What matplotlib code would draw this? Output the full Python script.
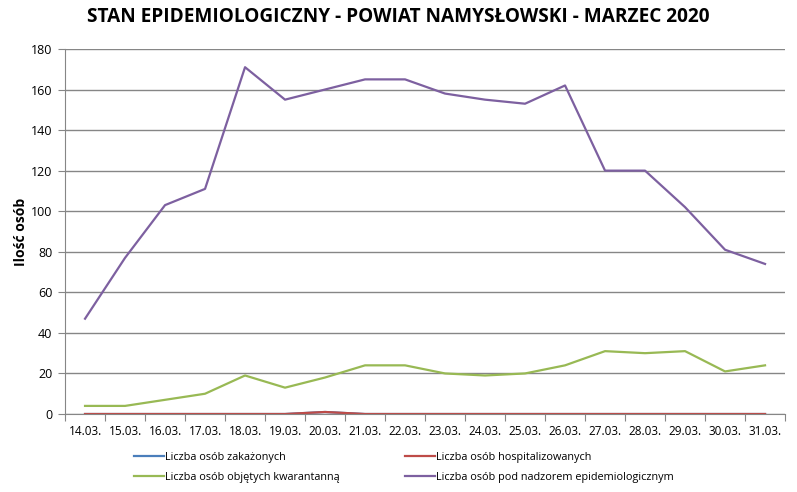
import matplotlib
matplotlib.use("Agg")
import matplotlib.pyplot as plt
import numpy as np

days = ["14.03.", "15.03.", "16.03.", "17.03.", "18.03.", "19.03.", "20.03.",
        "21.03.", "22.03.", "23.03.", "24.03.", "25.03.", "26.03.", "27.03.",
        "28.03.", "29.03.", "30.03.", "31.03."]
zakazeni = [0, 0, 0, 0, 0, 0, 1, 0, 0, 0, 0, 0, 0, 0, 0, 0, 0, 0]
hospitalizowani = [0, 0, 0, 0, 0, 0, 1, 0, 0, 0, 0, 0, 0, 0, 0, 0, 0, 0]
kwarantanna = [4, 4, 7, 10, 19, 13, 18, 24, 24, 20, 19, 20, 24, 31, 30, 31, 21, 24]
nadzor = [47, 77, 103, 111, 171, 155, 160, 165, 165, 158, 155, 153, 162, 120, 120, 102, 81, 74]

plt.rcParams['font.family'] = ['Open Sans', 'DejaVu Sans']

fig = plt.figure(figsize=(7.97, 4.92), dpi=100)
ax = fig.add_axes([0.0816, 0.1585, 0.9034, 0.742])

x = np.arange(len(days))
l1, = ax.plot(x, zakazeni, color='#4A7EBB', lw=1.6, label='Liczba osób zakażonych')
l2, = ax.plot(x, hospitalizowani, color='#BE4B48', lw=1.6, label='Liczba osób hospitalizowanych')
l3, = ax.plot(x, kwarantanna, color='#98B954', lw=1.6, label='Liczba osób objętych kwarantanną')
l4, = ax.plot(x, nadzor, color='#7D60A0', lw=1.6, label='Liczba osób pod nadzorem epidemiologicznym')

ax.set_xlim(-0.5, len(days) - 0.5)
ax.set_ylim(0, 180)
ax.set_yticks(range(0, 181, 20))
ax.grid(axis='y', color='#868686', lw=1)
ax.set_axisbelow(True)

ax.set_xticks(np.arange(-0.5, len(days), 1))
ax.set_xticklabels([])
ax.set_xticks(x, minor=True)
ax.set_xticklabels(days, minor=True)
ax.tick_params(axis='x', which='major', length=5, color='#868686')
ax.tick_params(axis='x', which='minor', length=0, pad=8, labelsize=8.5)
ax.tick_params(axis='y', length=5, color='#868686', labelsize=9, pad=4)

for s in ['top', 'right']:
    ax.spines[s].set_visible(False)
ax.spines['left'].set_color('#868686')
ax.spines['bottom'].set_color('#868686')

ax.set_ylabel('Ilość osób', fontsize=10, fontweight='bold', labelpad=2)
fig.suptitle('STAN EPIDEMIOLOGICZNY - POWIAT NAMYSŁOWSKI - MARZEC 2020',
             fontsize=13.7, fontweight='bold', y=0.985)

# row-major order like the original legend
fig.legend([l1, l3, l2, l4], [l.get_label() for l in [l1, l3, l2, l4]],
           loc='lower center', ncol=2, frameon=False, fontsize=7.8,
           bbox_to_anchor=(0.507, -0.002), columnspacing=6.0, handlelength=2.8,
           handletextpad=0.1, labelspacing=0.85)

fig.savefig('out.png', dpi=100)
